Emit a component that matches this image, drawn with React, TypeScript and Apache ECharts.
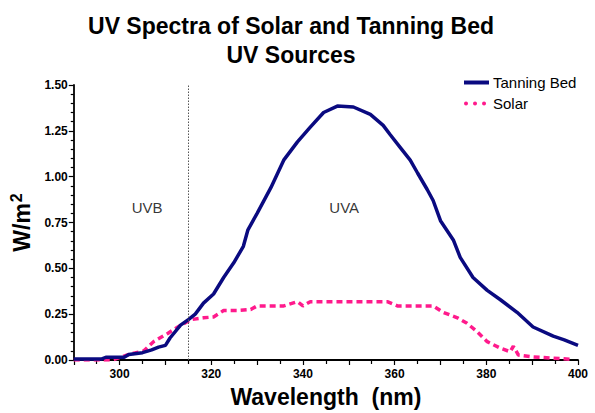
import React, { useEffect, useRef } from "react";
import * as echarts from "echarts";

const tanningNm = [290, 296, 297, 301, 302, 305, 307, 308.5, 310, 311, 313.3, 315, 316.5, 318.3, 320.5, 322.7, 324.9, 327, 328, 330, 333, 335.8, 338.8, 341.6, 344.5, 347.5, 351, 354.7, 357.5, 359, 361.2, 363.4, 365, 367.1, 368.4, 370, 372.8, 374.3, 377.1, 380.2, 383, 386.7, 390.2, 394.6, 397, 400];
const tanningVal = [0.005, 0.005, 0.015, 0.015, 0.03, 0.04, 0.055, 0.07, 0.08, 0.12, 0.19, 0.22, 0.25, 0.31, 0.36, 0.45, 0.53, 0.62, 0.71, 0.8, 0.94, 1.09, 1.19, 1.27, 1.35, 1.385, 1.38, 1.34, 1.28, 1.23, 1.16, 1.09, 1.02, 0.93, 0.87, 0.76, 0.655, 0.56, 0.45, 0.38, 0.33, 0.26, 0.18, 0.13, 0.11, 0.08];

const solarNm = [290, 298.5, 302, 305.3, 307.4, 310.5, 312.7, 315.5, 318.3, 320.5, 322.7, 325.7, 328.6, 330, 335.8, 338.8, 340, 341.6, 358.4, 360.6, 368.4, 370.6, 373.7, 375.8, 378, 380.2, 383, 385.2, 385.9, 387, 390.2, 394.6, 399];
const solarVal = [0, 0, 0.03, 0.05, 0.1, 0.145, 0.18, 0.22, 0.23, 0.235, 0.27, 0.27, 0.275, 0.295, 0.295, 0.318, 0.295, 0.318, 0.318, 0.295, 0.295, 0.26, 0.23, 0.2, 0.155, 0.1, 0.065, 0.045, 0.075, 0.027, 0.017, 0.01, 0.003];

const seriesNames = ["Tanning Bed", "Solar"];
const regionLabels = ["UVB", "UVA"];
const regionNm = [306, 349];
const regionY = [0.83, 0.83];
const boundaryNm = 315;

const FONT = "'Liberation Sans', Arial, sans-serif";
const NAVY = "#0a0a80";
const PINK = "#ff1a8c";

export default function App() {
  const ref = useRef<HTMLDivElement>(null);
  useEffect(() => {
    if (!ref.current) return;
    const chart = echarts.init(ref.current, null, { renderer: "svg" });
    const tanning = tanningNm.map((x, i) => [x, tanningVal[i]]);
    const solar = solarNm.map((x, i) => [x, solarVal[i]]);
    const regions = regionNm.map((x, i) => ({ value: [x, regionY[i]], name: regionLabels[i] }));
    chart.setOption({
      animation: false,
      backgroundColor: "#ffffff",
      textStyle: { fontFamily: FONT },
      title: {
        text: "UV Spectra of Solar and Tanning Bed\nUV Sources",
        left: 286,
        top: 6,
        textAlign: "center",
        textStyle: { fontFamily: FONT, fontSize: 23, fontWeight: "bold", color: "#000", lineHeight: 29 },
      },
      legend: {
        orient: "vertical",
        left: 457,
        top: 70,
        itemWidth: 25,
        itemHeight: 14,
        itemGap: 6,
        itemStyle: { opacity: 0 },
        data: [
          { name: seriesNames[0], lineStyle: { color: NAVY, width: 4, type: "solid" } },
          { name: seriesNames[1], lineStyle: { color: PINK, width: 4, type: [0.01, 9], cap: "round", dashOffset: -2 } },
        ],
        textStyle: { fontFamily: FONT, fontSize: 15, color: "#000", lineHeight: 15, padding: [0, 0, 0, -1] },
      },
      grid: { left: 73, right: 17, top: 85, bottom: 53 },
      xAxis: {
        type: "value",
        min: 290,
        max: 400,
        interval: 10,
        name: "Wavelength  (nm)",
        nameLocation: "middle",
        nameGap: 25,
        nameTextStyle: { fontFamily: FONT, fontSize: 23, fontWeight: "bold", color: "#000" },
        axisLine: { lineStyle: { color: "#000", width: 1.8 } },
        axisTick: { length: 5, lineStyle: { color: "#000", width: 1.2 } },
        minorTick: { show: true, splitNumber: 2, length: 4, lineStyle: { color: "#000", width: 1.2 } },
        splitLine: { show: false },
        axisLabel: {
          margin: 8,
          fontFamily: FONT,
          fontSize: 12,
          fontWeight: "bold",
          color: "#000",
          formatter: (v: number) => (v % 20 === 0 ? String(v) : ""),
        },
      },
      yAxis: {
        type: "value",
        min: 0,
        max: 1.5,
        interval: 0.25,
        name: "W/m{sup|2}",
        nameLocation: "middle",
        nameRotate: 90,
        nameGap: 25,
        nameTextStyle: {
          fontFamily: FONT,
          fontSize: 23,
          fontWeight: "bold",
          color: "#000",
          rich: {
            sup: { fontFamily: FONT, fontSize: 16, fontWeight: "bold", color: "#000", verticalAlign: "top", padding: [0, 0, 12, 1] },
          },
        },
        axisLine: { show: true, lineStyle: { color: "#000", width: 1.8 } },
        axisTick: { show: true, length: 5, lineStyle: { color: "#000", width: 1.2 } },
        minorTick: { show: true, splitNumber: 5, length: 3, lineStyle: { color: "#000", width: 1.2 } },
        splitLine: { show: false },
        axisLabel: {
          margin: 6,
          fontFamily: FONT,
          fontSize: 12,
          fontWeight: "bold",
          color: "#000",
          formatter: (v: number) => v.toFixed(2),
        },
      },
      series: [
        {
          name: seriesNames[0],
          type: "line",
          data: tanning,
          symbol: "none",
          lineStyle: { color: NAVY, width: 3.5 },
          itemStyle: { color: NAVY },
          z: 3,
          markLine: {
            silent: true,
            symbol: "none",
            label: { show: false },
            lineStyle: { color: "#555", type: [1.5, 1.5], width: 1 },
            data: [{ xAxis: boundaryNm }],
          },
        },
        {
          name: seriesNames[1],
          type: "line",
          data: solar,
          symbol: "none",
          lineStyle: { color: PINK, width: 3.5, type: [6, 4] },
          itemStyle: { color: PINK },
          z: 2,
        },
        {
          name: "regions",
          type: "scatter",
          data: regions,
          symbolSize: 0,
          silent: true,
          label: {
            show: true,
            position: "inside",
            formatter: (p: any) => p.name,
            fontFamily: FONT,
            fontSize: 15,
            color: "#000",
          },
        },
      ],
    });
    return () => chart.dispose();
  }, []);
  return <div ref={ref} style={{ width: 595, height: 413, position: "absolute", left: 0, top: 0 }} />;
}
